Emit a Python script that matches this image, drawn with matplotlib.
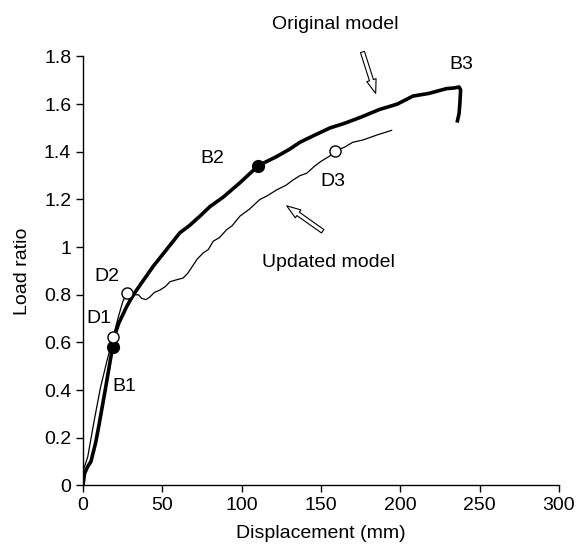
import matplotlib
matplotlib.use("Agg")
import matplotlib.pyplot as plt
from matplotlib.ticker import FuncFormatter

plt.rcParams['font.family'] = ['Liberation Sans', 'DejaVu Sans']

#Curve data
orig_x = [0, 1, 3, 5, 8, 10, 14, 18.7, 20.5, 22.5, 25, 27.5, 30, 33.8, 38, 44.3, 52.7, 61, 67,
          73.7, 80, 88.4, 98.9, 110.5, 122, 130, 136.7, 146, 155.6, 165, 175, 187, 198, 208,
          218, 229, 234, 237, 238, 237.5, 237, 236]
orig_y = [0, 0.05, 0.08, 0.10, 0.18, 0.25, 0.40, 0.583, 0.64, 0.68, 0.715, 0.75, 0.78, 0.82,
          0.86, 0.92, 0.99, 1.06, 1.09, 1.13, 1.17, 1.21, 1.27, 1.342, 1.38, 1.41, 1.44, 1.47,
          1.50, 1.52, 1.545, 1.578, 1.60, 1.634, 1.645, 1.665, 1.668, 1.672, 1.66, 1.60, 1.56,
          1.53]

upd_x = [0, 0.5, 3, 7, 11, 15, 19.1, 22, 25, 27.5, 30, 32, 35, 37, 39.7, 42, 45, 48.5, 52,
         54.8, 60, 63, 66, 69.5, 72, 75.8, 79, 82.1, 86, 90.5, 94, 98.9, 105, 111.5, 116,
         122, 128, 132, 136.7, 141, 146, 150, 155, 158.8, 165, 170, 176.6, 185, 194.5]
upd_y = [0, 0.07, 0.12, 0.27, 0.41, 0.52, 0.625, 0.70, 0.77, 0.807, 0.80, 0.80, 0.80, 0.785,
         0.78, 0.79, 0.81, 0.82, 0.835, 0.855, 0.865, 0.87, 0.89, 0.925, 0.95, 0.976, 0.99,
         1.025, 1.04, 1.073, 1.09, 1.13, 1.16, 1.20, 1.215, 1.24, 1.26, 1.28, 1.30, 1.31,
         1.34, 1.36, 1.38, 1.403, 1.42, 1.44, 1.45, 1.47, 1.49]

#Marked points
b_x = [18.7, 110.5]
b_y = [0.583, 1.342]
d_x = [19.1, 27.5, 158.8]
d_y = [0.625, 0.807, 1.403]

#Point labels
labels = ["B1", "B2", "B3", "D1", "D2", "D3"]
label_x = [25.8, 81.5, 238.6, 10.3, 14.9, 157.7]
label_y = [0.415, 1.37, 1.767, 0.70, 0.877, 1.277]

fig = plt.figure(figsize=(5.77, 5.5), dpi=100)
ax = fig.add_axes([0.1438, 0.1173, 0.825, 0.78])

fs = 14

ax.plot(upd_x, upd_y, color='black', lw=0.9)
ax.plot(orig_x, orig_y, color='black', lw=2.6, solid_joinstyle='round')
ax.plot(b_x, b_y, 'o', color='black', ms=8.5)
ax.plot(d_x, d_y, 'o', mfc='white', mec='black', mew=1.0, ms=8)

for t, x, y in zip(labels, label_x, label_y):
    ax.text(x, y, t, ha='center', va='center', fontsize=fs)

ax.text(158.8, 1.935, "Original model", ha='center', va='center', fontsize=fs, clip_on=False)
ax.text(154.6, 0.934, "Updated model", ha='center', va='center', fontsize=fs)

arrow_style = dict(arrowstyle='simple,head_width=0.7,head_length=1.0,tail_width=0.3',
                   fc='white', ec='black', lw=0.8)
ax.annotate('', xy=(185, 1.634), xytext=(175.6, 1.83), arrowprops=arrow_style,
            annotation_clip=False)
ax.annotate('', xy=(127, 1.18), xytext=(152.5, 1.06), arrowprops=arrow_style)

ax.set_xlim(0, 300)
ax.set_ylim(0, 1.8)
ax.set_xticks([0, 50, 100, 150, 200, 250, 300])
ax.set_yticks([0, 0.2, 0.4, 0.6, 0.8, 1.0, 1.2, 1.4, 1.6, 1.8])
ax.yaxis.set_major_formatter(FuncFormatter(lambda v, p: '%g' % round(v, 1)))
ax.spines['top'].set_visible(False)
ax.spines['right'].set_visible(False)
ax.spines['left'].set_linewidth(1.0)
ax.spines['bottom'].set_linewidth(1.0)
ax.tick_params(direction='out', length=5, width=1.0, labelsize=fs)
ax.set_xlabel('Displacement (mm)', fontsize=fs, labelpad=8)
ax.set_ylabel('Load ratio', fontsize=fs, labelpad=9)

fig.savefig('out.png', dpi=100)
